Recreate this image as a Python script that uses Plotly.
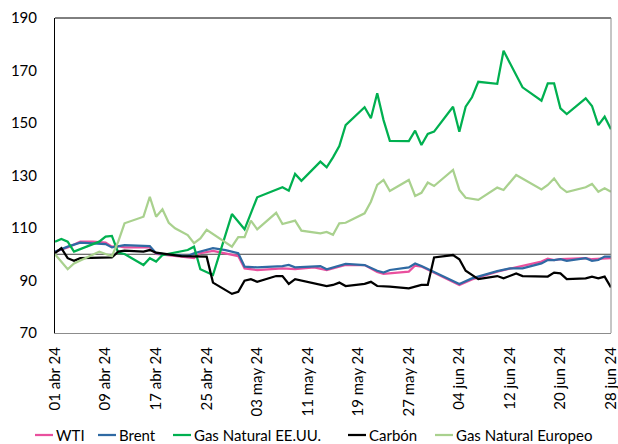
import datetime as dt
import plotly.graph_objects as go

BASE = dt.datetime(2024, 4, 1)

# Tick labels (every 8 days from 01 abr 24)
tick_days = [0, 8, 16, 24, 32, 40, 48, 56, 64, 72, 80, 88]
tick_text = ["01 abr 24", "09 abr 24", "17 abr 24", "25 abr 24", "03 may 24", "11 may 24",
             "19 may 24", "27 may 24", "04 jun 24", "12 jun 24", "20 jun 24", "28 jun 24"]

# WTI (days since 01 abr 24, index value)
wti_days = [0, 2, 4, 6, 8, 9, 10, 11, 15, 16, 20, 22, 23, 25, 29, 30, 32, 36, 38, 41, 43, 46, 49,
            51, 52, 56, 57, 58, 64, 66, 70, 77, 78, 79, 80, 84, 85, 88]
wti_vals = [101, 102.6, 104.8, 104.8, 104.4, 102.9, 103.1, 102.6, 102.6, 100.1, 99.1, 98.5, 100.4,
            101.3, 99.3, 94.6, 94, 94.6, 94.3, 95, 94, 95.9, 95.9, 93.3, 92.5, 93.4, 95.7, 95.3, 88.3,
            90.4, 93.4, 97.2, 98.3, 97.8, 98.1, 98.5, 98.1, 98.5]

# Brent
brent_days = [0, 2, 4, 6, 8, 9, 10, 11, 15, 16, 17, 19, 21, 22, 23, 25, 27, 29, 30, 32, 36, 37, 38,
              41, 42, 43, 45, 46, 49, 51, 52, 53, 56, 57, 58, 64, 66, 70, 72, 74, 77, 78, 79, 80,
              81, 84, 85, 86, 87, 88]
brent_vals = [101, 102.9, 104.4, 104.2, 103.9, 102.6, 103.1, 103.5, 103.1, 100.4, 100.1, 99.7, 99.3,
              100.4, 101, 102.3, 101.6, 100.4, 95.3, 95, 95.5, 95.9, 95, 95.3, 95.5, 94.3, 95.5,
              96.3, 95.9, 93.7, 93, 94, 95, 96.5, 95.5, 88.7, 90.8, 93.6, 94.6, 94.6, 96.5, 97.8,
              97.8, 98.1, 97.5, 98.5, 97.5, 97.8, 99.1, 99.1]

# Gas Natural EE.UU.
gas_us_days = [0, 1, 2, 3, 7, 8, 9, 10, 11, 14, 15, 16, 17, 21, 22, 23, 25, 28, 30, 32, 36, 37, 38,
               39, 42, 43, 44, 45, 46, 49, 50, 51, 52, 53, 56, 57, 58, 59, 60, 63, 64, 65, 66, 67,
               70, 71, 74, 77, 78, 79, 80, 81, 84, 85, 86, 87, 88]
gas_us_vals = [104.8, 105.8, 104.8, 101, 104.8, 106.7, 107, 100.6, 100.1, 95.9, 98.5, 97.2, 99.7,
               101.6, 102.9, 94.3, 92.1, 115.3, 109.5, 121.7, 125.5, 124.2, 130.6, 128, 135.3,
               133.1, 136.9, 141.2, 149.2, 156, 151.8, 161.3, 151.1, 143.2, 143.1, 147.1, 141.6,
               145.8, 146.7, 156.2, 146.7, 156.2, 159.8, 165.7, 164.9, 177.5, 163.6, 158.5, 165.1,
               165.1, 155.6, 153.4, 159.4, 156.5, 149.2, 152.4, 147.6]

# Carbón
coal_days = [0, 1, 2, 3, 4, 9, 10, 11, 14, 15, 16, 20, 24, 25, 28, 29, 30, 31, 32, 35, 36, 37, 38,
             41, 43, 44, 45, 46, 49, 50, 51, 53, 56, 58, 59, 60, 63, 64, 65, 67, 70, 71, 73, 74,
             78, 79, 80, 81, 84, 85, 86, 87, 88]
coal_vals = [100.4, 102.3, 98.5, 97.5, 98.5, 98.8, 101, 101.4, 101, 101.6, 100.6, 99.3, 99.1, 89.2,
             84.9, 85.7, 89.9, 90.5, 89.5, 91.7, 91.7, 88.7, 90.5, 88.9, 87.9, 88.3, 89.2, 87.9,
             88.7, 89.5, 87.9, 87.7, 87, 88.3, 88.3, 98.8, 99.7, 98.1, 93.7, 90.5, 91.7, 90.8,
             92.7, 91.7, 91.5, 93, 92.7, 90.5, 90.8, 91.5, 90.8, 91.5, 87.4]

# Gas Natural Europeo
gas_eu_days = [0, 2, 3, 7, 8, 9, 10, 11, 14, 15, 16, 17, 18, 19, 21, 22, 23, 24, 28, 29, 30, 31,
               32, 35, 36, 38, 39, 42, 43, 44, 45, 46, 49, 50, 51, 52, 53, 56, 57, 58, 59, 60, 63,
               64, 65, 67, 70, 71, 73, 77, 78, 79, 80, 81, 84, 85, 86, 87, 88]
gas_eu_vals = [100, 94.3, 96.5, 101, 100.1, 99.3, 104.8, 111.8, 114.3, 121.9, 114.3, 117.1, 112,
               109.9, 107.3, 104.2, 106, 109.3, 102.9, 106.5, 106.5, 112.8, 109.5, 115.8, 111.5,
               112.8, 109, 108, 108.5, 107.4, 111.8, 112, 115.6, 120, 126.4, 128.3, 124.1, 128.3,
               122.2, 123.4, 127.3, 126, 132.1, 124.5, 121.5, 120.7, 125.4, 124.5, 130.2, 124.7,
               126.4, 128.9, 125.5, 123.7, 125.5, 126.8, 123.8, 125.1, 123.8]

series_names = ["WTI", "Brent", "Gas Natural EE.UU.", "Carbón", "Gas Natural Europeo"]
series_days = [wti_days, brent_days, gas_us_days, coal_days, gas_eu_days]
series_vals = [wti_vals, brent_vals, gas_us_vals, coal_vals, gas_eu_vals]
series_colors = ["#E9509E", "#2F6AA3", "#00B050", "#000000", "#A9D18E"]


def to_dates(days):
    return [BASE + dt.timedelta(days=d) for d in days]


fig = go.Figure()
for name, days, vals, color in zip(series_names, series_days, series_vals, series_colors):
    fig.add_trace(go.Scatter(x=to_dates(days), y=vals, name=name, mode="lines",
                             line=dict(color=color, width=2.25), showlegend=False))

FONT = "Lato, Carlito, Calibri, sans-serif"
W, H = 618, 444
ML, MR, MT, MB = 55, 7, 18, 111
PW, PH = W - ML - MR, H - MT - MB


def px_to_paper_x(px):
    return (px - ML) / PW


def px_to_paper_y(py):
    return (H - MB - py) / PH


# Manual legend (short line sample directly before each label)
legend_line_x = [35, 98, 173, 348, 435]
legend_y_px = 435
shapes = [
    dict(type="line", xref="paper", yref="y", x0=0, x1=1, y0=100, y1=100,
         line=dict(color="#404040", width=1), layer="below"),
    dict(type="line", xref="paper", yref="paper", x0=0, x1=1, y0=1, y1=1,
         line=dict(color="#000000", width=1)),
    dict(type="line", xref="paper", yref="paper", x0=1, x1=1, y0=0, y1=1,
         line=dict(color="#8C8C8C", width=1)),
]
annotations = []
for name, color, lx in zip(series_names, series_colors, legend_line_x):
    shapes.append(dict(type="line", xref="paper", yref="paper",
                       x0=px_to_paper_x(lx), x1=px_to_paper_x(lx + 18),
                       y0=px_to_paper_y(legend_y_px), y1=px_to_paper_y(legend_y_px),
                       line=dict(color=color, width=2.25)))
    annotations.append(dict(text=name, xref="paper", yref="paper",
                            x=px_to_paper_x(lx + 18.5), y=px_to_paper_y(legend_y_px),
                            xanchor="left", yanchor="middle", showarrow=False,
                            font=dict(family=FONT, size=15, color="#000000")))

fig.update_layout(
    width=W, height=H,
    margin=dict(l=ML, r=MR, t=MT, b=MB),
    paper_bgcolor="white", plot_bgcolor="white",
    font=dict(family=FONT, size=15, color="#000000"),
    showlegend=False,
    xaxis=dict(type="date",
               range=[BASE - dt.timedelta(minutes=10), BASE + dt.timedelta(days=88, minutes=10)],
               tickvals=to_dates(tick_days), ticktext=tick_text, tickangle=-90,
               showgrid=False, zeroline=False, showline=True, linecolor="#8C8C8C",
               linewidth=1, ticks="", ticklabelstandoff=7, automargin=False,
               ticklabeloverflow="allow"),
    yaxis=dict(range=[70, 190], dtick=20, tick0=70, showgrid=False, zeroline=False,
               showline=True, linecolor="#000000", linewidth=1, ticks="",
               ticklabelstandoff=14, automargin=False),
    shapes=shapes,
    annotations=annotations,
)

fig.write_html("out.html", config={"displayModeBar": False},
               post_script="document.body.style.margin='0';document.body.style.overflow='hidden';")
